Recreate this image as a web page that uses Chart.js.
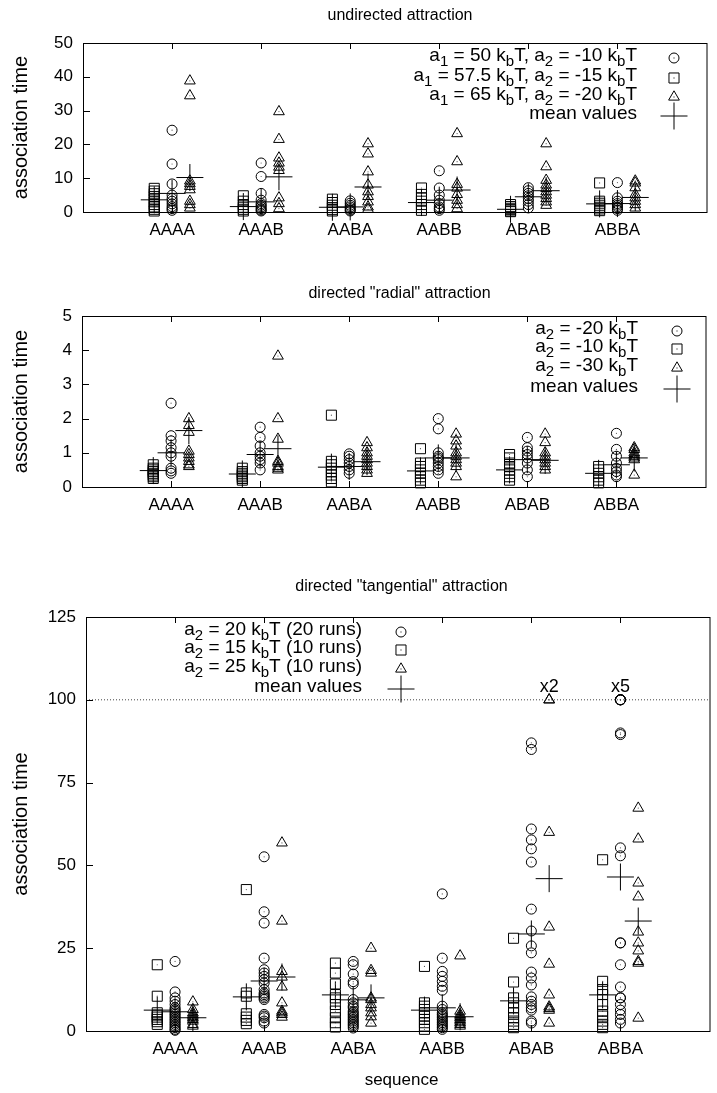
<!DOCTYPE html>
<html lang="en">
<head>
<meta charset="UTF-8">
<title>Association time</title>
<script src="https://cdn.jsdelivr.net/npm/chart.js"></script>
<style>
  body { margin: 0; background: #fff; width: 717px; height: 1093px; overflow: hidden; position: relative; }
  canvas { position: absolute; left: 0; }
</style>
</head>
<body>
<canvas id="c1" width="721" height="245" style="top:0px"></canvas>
<canvas id="c2" width="720" height="270" style="top:250px"></canvas>
<canvas id="c3" width="724" height="563" style="top:530px"></canvas>
<script>
// sequences on the x axis
const categories = ['AAAA', 'AAAB', 'AABA', 'AABB', 'ABAB', 'ABBA'];

// undirected attraction: one list of runs per sequence
const undirCircles = [
  [24.2, 14.2, 8.3, 5, 4, 3.2, 2.4, 1.6, 1, 0.5],
  [14.5, 10.5, 5.5, 3.5, 2.5, 2, 1.5, 1, 0.6, 0.3],
  [3.3, 2.6, 2, 1.5, 1, 0.6, 0.3],
  [12.2, 7.1, 5, 3.5, 2.5, 1.5, 1, 0.5],
  [7.2, 6.3, 5.5, 4.8, 4, 3.2, 2.2, 1.2],
  [8.7, 4.2, 3.2, 2.5, 2, 1.5, 1, 0.5]
];
const undirSquares = [
  [7, 6.2, 5.4, 4.6, 3.8, 3, 2.2, 1.5, 0.8, 0.3],
  [4.8, 3.2, 2.2, 1.4, 0.8, 0.3],
  [3.8, 2.8, 2, 1.3, 0.7, 0.3],
  [7.1, 5.2, 4.2, 3.2, 2.2, 1.3, 0.5],
  [2.2, 1.6, 1.1, 0.7, 0.3, 0.1],
  [8.6, 3.2, 2.6, 2, 1.4, 0.9, 0.4]
];
const undirTriangles = [
  [38.8, 34.4, 9.2, 8.4, 7.6, 6.6, 3.2, 2.2, 1.2],
  [29.7, 21.5, 16, 14.5, 13.3, 12.3, 4.2, 2.5, 1],
  [20.2, 17.2, 11.9, 8, 6, 4.6, 3, 1.5, 0.8],
  [23.2, 14.9, 8.2, 7.1, 5.2, 3.5, 2.2, 1],
  [20.2, 13.4, 9.4, 8, 7, 6, 5, 4, 3, 2],
  [9.2, 8.6, 7.2, 5.2, 4.2, 3.2, 2.2, 1.2]
];
const undirMeanCircles = [5.5, 3, 1.5, 3.5, 4.5, 2.5];
const undirMeanSquares = [3.6, 1.6, 1.4, 2.8, 0.8, 2.4];
const undirMeanTriangles = [10.2, 10.4, 7.4, 6.5, 6.3, 4.3];
const undirLabels = ['a_1 = 50 k_bT, a_2 = -10 k_bT', 'a_1 = 57.5 k_bT, a_2 = -15 k_bT', 'a_1 = 65 k_bT, a_2 = -20 k_bT', 'mean values'];

// directed "radial" attraction
const radialCircles = [
  [2.45, 1.5, 1.35, 1.15, 1.0, 0.9, 0.55, 0.47, 0.4],
  [1.75, 1.45, 1.2, 1.0, 0.9, 0.8, 0.7, 0.5],
  [0.97, 0.9, 0.8, 0.7, 0.6, 0.5, 0.4],
  [2.0, 1.7, 1.0, 0.9, 0.85, 0.8, 0.7, 0.6, 0.5, 0.4],
  [1.45, 1.15, 1.05, 0.95, 0.85, 0.7, 0.5, 0.3],
  [1.57, 1.1, 0.9, 0.7, 0.55, 0.45, 0.35, 0.3]
];
const radialSquares = [
  [0.65, 0.55, 0.5, 0.45, 0.4, 0.35, 0.3, 0.25],
  [0.55, 0.45, 0.4, 0.35, 0.3, 0.25, 0.2],
  [2.1, 0.75, 0.65, 0.55, 0.45, 0.35, 0.25, 0.15],
  [1.12, 0.7, 0.6, 0.5, 0.4, 0.3, 0.2, 0.12],
  [0.95, 0.85, 0.7, 0.6, 0.5, 0.4, 0.3, 0.2],
  [0.6, 0.5, 0.4, 0.3, 0.2, 0.12]
];
const radialTriangles = [
  [2.0, 1.8, 1.6, 1.05, 0.95, 0.85, 0.75, 0.65, 0.6],
  [3.83, 2.0, 1.4, 0.75, 0.7, 0.6, 0.55, 0.5],
  [1.3, 1.15, 1.0, 0.9, 0.8, 0.7, 0.6, 0.5, 0.4],
  [1.55, 1.35, 1.2, 1.0, 0.9, 0.8, 0.7, 0.6, 0.3],
  [1.55, 1.3, 1.0, 0.9, 0.8, 0.7, 0.6, 0.5],
  [1.15, 1.1, 1.0, 0.95, 0.9, 0.85, 0.8, 0.35]
];
const radialMeanCircles = [1.0, 0.95, 0.6, 0.85, 0.8, 0.65];
const radialMeanSquares = [0.48, 0.38, 0.58, 0.47, 0.5, 0.4];
const radialMeanTriangles = [1.65, 1.12, 0.74, 0.85, 0.78, 0.85];
const radialLabels = ['a_2 = -20 k_bT', 'a_2 = -10 k_bT', 'a_2 = -30 k_bT', 'mean values'];

// directed "tangential" attraction
const tangCircles = [
  [21, 11.8, 10, 9, 8, 7, 6.5, 6, 5.5, 5, 4.5, 4, 3.5, 3, 2.5, 2, 1.5, 1, 0.5, 0.2],
  [52.6, 36, 32.6, 22, 18.5, 17.5, 16.5, 15.5, 14.5, 12.5, 11.5, 11, 10.5, 10, 9.5, 5, 4.5, 4, 3, 2.4],
  [21, 20, 17.2, 14.9, 14.2, 9.5, 8.5, 7.5, 7, 6, 5.5, 5, 4.5, 4, 3.5, 3, 2.5, 2, 1.5, 0.9],
  [41.4, 22, 18, 16.5, 15, 13.5, 12.3, 7.5, 6.5, 5.5, 5, 4.5, 4, 3.5, 3, 2.5, 2, 1.5, 1, 0.5],
  [87, 85, 61, 57.7, 55, 51, 36.8, 30.2, 25.7, 23.6, 17.8, 16, 13.9, 10.3, 9, 8, 7, 6.3, 3, 2.4],
  [100, 100, 100, 100, 100, 90, 89.5, 55.3, 52.9, 26.6, 26.6, 20, 13.3, 10, 10, 8, 6.3, 5, 3.5, 2.4]
];
const tangSquares = [
  [20, 10.5, 5.5, 4.8, 4.2, 3.5, 2.8, 2],
  [42.7, 11.5, 10.5, 5.2, 4.2, 3.2, 2.2],
  [20.5, 17.5, 14.2, 11, 10, 8, 6, 4, 2.5, 1.2],
  [19.5, 8.5, 7.5, 6.5, 5.5, 4.5, 3.5, 2.5, 1.5, 0.5],
  [28, 14.8, 10, 8.5, 7, 5.5, 4, 3, 2, 1],
  [51.7, 15, 12.5, 11, 8, 6, 4.5, 3, 2, 1]
];
const tangTriangles = [
  [8.8, 6.5, 5.5, 5, 4.5, 4, 3.5, 3, 2, 1.5],
  [56.8, 33.2, 18, 16.3, 13.3, 8.5, 6, 5.5, 5, 4.2],
  [25, 18.3, 17.5, 10, 9.5, 8, 7, 5.5, 4.3, 2.4],
  [22.7, 6, 5, 4.5, 4, 3.5, 3, 2.5, 2, 1.5],
  [100, 100, 60, 31.4, 20.2, 10.9, 7.3, 6.8, 6.3, 2.4],
  [67.3, 58, 44.7, 40.5, 29.9, 26.6, 24.2, 21, 20.5, 3.9]
];
const tangMeanCircles = [5.8, 15.1, 9.4, 7, 29.3, 46.5];
const tangMeanSquares = [6.3, 10.3, 10.9, 6.3, 9.1, 10.9];
const tangMeanTriangles = [4, 16.3, 10, 4.3, 46, 33.2];
const tangLabels = ['a_2 = 20 k_bT (20 runs)', 'a_2 = 15 k_bT (10 runs)', 'a_2 = 25 k_bT (10 runs)', 'mean values'];
const tangCap = 100;
const tangNotes = [{ text: 'x2', cat: 4, series: 'triangle' }, { text: 'x5', cat: 5, series: 'circle' }];

const FONT = '"Liberation Sans", Arial, Helvetica, sans-serif';
const OFFSET = { circle: 0, rect: -0.2, triangle: 0.2 };
const RADIUS = { circle: 5, rect: 7.1, triangle: 6.2, cross: 13.5 };

function toPoints(groups, offset) {
  return groups.flatMap((vals, i) => vals.map(v => ({ x: i + offset, y: v })));
}

function markerSets(groups, style) {
  const data = toPoints(groups, OFFSET[style]);
  return [{
    data,
    pointStyle: style,
    radius: RADIUS[style],
    borderWidth: 1,
    borderColor: '#000',
    backgroundColor: 'rgba(0,0,0,0)',
    clip: false
  }, {
    // gnuplot style centre dot
    data,
    pointStyle: 'circle',
    radius: 0.6,
    borderWidth: 0,
    backgroundColor: '#555',
    clip: false
  }];
}

function meanSet(mc, ms, mt) {
  const data = [];
  mc.forEach((v, i) => data.push({ x: i + OFFSET.circle, y: v }));
  ms.forEach((v, i) => data.push({ x: i + OFFSET.rect, y: v }));
  mt.forEach((v, i) => data.push({ x: i + OFFSET.triangle, y: v }));
  return { data, pointStyle: 'cross', radius: RADIUS.cross, borderWidth: 1, borderColor: '#000', clip: false };
}

function drawMarker(ctx, style, x, y) {
  const r = RADIUS[style];
  ctx.beginPath();
  if (style === 'circle') {
    ctx.arc(x, y, r, 0, Math.PI * 2);
  } else if (style === 'rect') {
    const s = r * Math.SQRT1_2;
    ctx.rect(x - s, y - s, 2 * s, 2 * s);
  } else if (style === 'triangle') {
    for (let k = 0; k < 3; k++) {
      const a = k * 2 * Math.PI / 3;
      const px = x + Math.sin(a) * r, py = y - Math.cos(a) * r;
      k ? ctx.lineTo(px, py) : ctx.moveTo(px, py);
    }
    ctx.closePath();
  } else {
    ctx.moveTo(x - r, y); ctx.lineTo(x + r, y);
    ctx.moveTo(x, y - r); ctx.lineTo(x, y + r);
  }
  ctx.stroke();
  if (style !== 'cross') ctx.fillRect(x - 0.5, y - 0.5, 1, 1);
}

// text with "_x" subscripts, right aligned at xr
function drawRich(ctx, str, xr, y, size) {
  const segs = [];
  let buf = '';
  for (let i = 0; i < str.length; i++) {
    if (str[i] === '_') {
      if (buf) segs.push({ t: buf });
      buf = '';
      segs.push({ t: str[i + 1], sub: true });
      i++;
    } else buf += str[i];
  }
  if (buf) segs.push({ t: buf });
  const sub = Math.round(size * 0.8);
  let total = 0;
  segs.forEach(s => {
    ctx.font = (s.sub ? sub : size) + 'px ' + FONT;
    s.w = ctx.measureText(s.t).width;
    total += s.w;
  });
  let x = xr - total;
  ctx.textAlign = 'left';
  ctx.textBaseline = 'middle';
  segs.forEach(s => {
    ctx.font = (s.sub ? sub : size) + 'px ' + FONT;
    ctx.fillText(s.t, x, s.sub ? y + size * 0.33 : y);
    x += s.w;
  });
}

const decor = {
  id: 'decor',
  afterDraw(chart, args, o) {
    const { ctx, chartArea: a, scales } = chart;
    ctx.save();
    ctx.strokeStyle = '#000';
    ctx.fillStyle = '#000';
    ctx.lineWidth = 1;
    ctx.strokeRect(Math.round(a.left) + 0.5, Math.round(a.top) + 0.5, a.right - a.left, a.bottom - a.top);
    ctx.beginPath();
    scales.y.ticks.forEach(t => {
      const py = Math.round(scales.y.getPixelForValue(t.value)) + 0.5;
      ctx.moveTo(a.left, py); ctx.lineTo(a.left + 7, py);
    });
    categories.forEach((c, i) => {
      const px = Math.round(scales.x.getPixelForValue(i)) + 0.5;
      ctx.moveTo(px, a.top); ctx.lineTo(px, a.top + 6);
      ctx.moveTo(px, a.bottom); ctx.lineTo(px, a.bottom - 6);
    });
    ctx.stroke();

    ctx.textAlign = 'center';
    ctx.textBaseline = 'middle';
    ctx.font = '16px ' + FONT;
    ctx.fillText(o.title, (a.left + 717) / 2, o.titleY);

    ctx.save();
    ctx.translate(21, (a.top + a.bottom) / 2);
    ctx.rotate(-Math.PI / 2);
    ctx.font = '20px ' + FONT;
    ctx.fillText('association time', 0, 0);
    ctx.restore();

    if (o.xTitle) {
      ctx.font = '17px ' + FONT;
      ctx.fillText(o.xTitle, (a.left + 717) / 2, o.xTitleY);
    }

    const styles = ['circle', 'rect', 'triangle', 'cross'];
    o.labels.forEach((lab, i) => {
      const y = o.rowsY[i];
      drawRich(ctx, lab, o.textRight, y - 2, 19);
      drawMarker(ctx, styles[i], o.markerX, y);
    });

    (o.notes || []).forEach(n => {
      const px = scales.x.getPixelForValue(n.cat + OFFSET[n.series]);
      const py = scales.y.getPixelForValue(o.cap);
      ctx.font = '18px ' + FONT;
      ctx.textAlign = 'center';
      ctx.textBaseline = 'middle';
      ctx.fillText(n.text, px, py - 13);
    });
    ctx.restore();
  }
};

function makeChart(id, cfg) {
  const datasets = [];
  if (cfg.cap) {
    datasets.push({
      type: 'line',
      data: [{ x: -1, y: cfg.cap }, { x: 6, y: cfg.cap }],
      borderColor: '#444', borderWidth: 1, borderDash: [1, 2], pointRadius: 0, clip: false
    });
  }
  datasets.push(...markerSets(cfg.circles, 'circle'));
  datasets.push(...markerSets(cfg.squares, 'rect'));
  datasets.push(...markerSets(cfg.triangles, 'triangle'));
  datasets.push(meanSet(cfg.mc, cfg.ms, cfg.mt));

  return new Chart(document.getElementById(id), {
    type: 'scatter',
    data: { datasets },
    options: {
      responsive: false,
      animation: false,
      devicePixelRatio: 1,
      events: [],
      layout: { padding: { top: cfg.top, left: 0, right: 0, bottom: 0 } },
      plugins: {
        legend: { display: false },
        tooltip: { enabled: false },
        decor: {
          title: cfg.title, titleY: cfg.titleY, labels: cfg.labels, rowsY: cfg.rowsY,
          textRight: cfg.textRight, markerX: cfg.markerX, xTitle: cfg.xTitle, xTitleY: cfg.xTitleY,
          notes: cfg.notes, cap: cfg.cap
        }
      },
      scales: {
        x: {
          type: 'linear', min: -1, max: 6,
          afterFit(s) { s.height = cfg.xh; },
          grid: { display: false, drawTicks: false },
          border: { display: false },
          ticks: {
            stepSize: 1, autoSkip: false, maxRotation: 0, padding: 8, color: '#000',
            font: { family: FONT, size: 17 },
            callback: v => categories[v] ?? ''
          }
        },
        y: {
          min: 0, max: cfg.ymax,
          afterFit(s) { s.width = cfg.left; },
          grid: { display: false, drawTicks: false },
          border: { display: false },
          ticks: { stepSize: cfg.step, padding: 10, color: '#000', font: { family: FONT, size: 17 } }
        }
      }
    },
    plugins: [decor]
  });
}

makeChart('c1', {
  circles: undirCircles, squares: undirSquares, triangles: undirTriangles,
  mc: undirMeanCircles, ms: undirMeanSquares, mt: undirMeanTriangles,
  labels: undirLabels, rowsY: [58, 78, 97, 116], textRight: 637, markerX: 674,
  title: 'undirected attraction', titleY: 16,
  top: 43, left: 83, xh: 33, ymax: 50, step: 10
});

makeChart('c2', {
  circles: radialCircles, squares: radialSquares, triangles: radialTriangles,
  mc: radialMeanCircles, ms: radialMeanSquares, mt: radialMeanTriangles,
  labels: radialLabels, rowsY: [81, 99, 118, 139], textRight: 638, markerX: 677,
  title: 'directed "radial" attraction', titleY: 44,
  top: 66, left: 82, xh: 33, ymax: 5, step: 1
});

makeChart('c3', {
  circles: tangCircles, squares: tangSquares, triangles: tangTriangles,
  mc: tangMeanCircles, ms: tangMeanSquares, mt: tangMeanTriangles,
  labels: tangLabels, rowsY: [102, 120, 139, 159], textRight: 362, markerX: 401,
  title: 'directed "tangential" attraction', titleY: 57,
  xTitle: 'sequence', xTitleY: 550,
  cap: tangCap, notes: tangNotes,
  top: 87, left: 86, xh: 62, ymax: 125, step: 25
});
</script>
</body>
</html>
